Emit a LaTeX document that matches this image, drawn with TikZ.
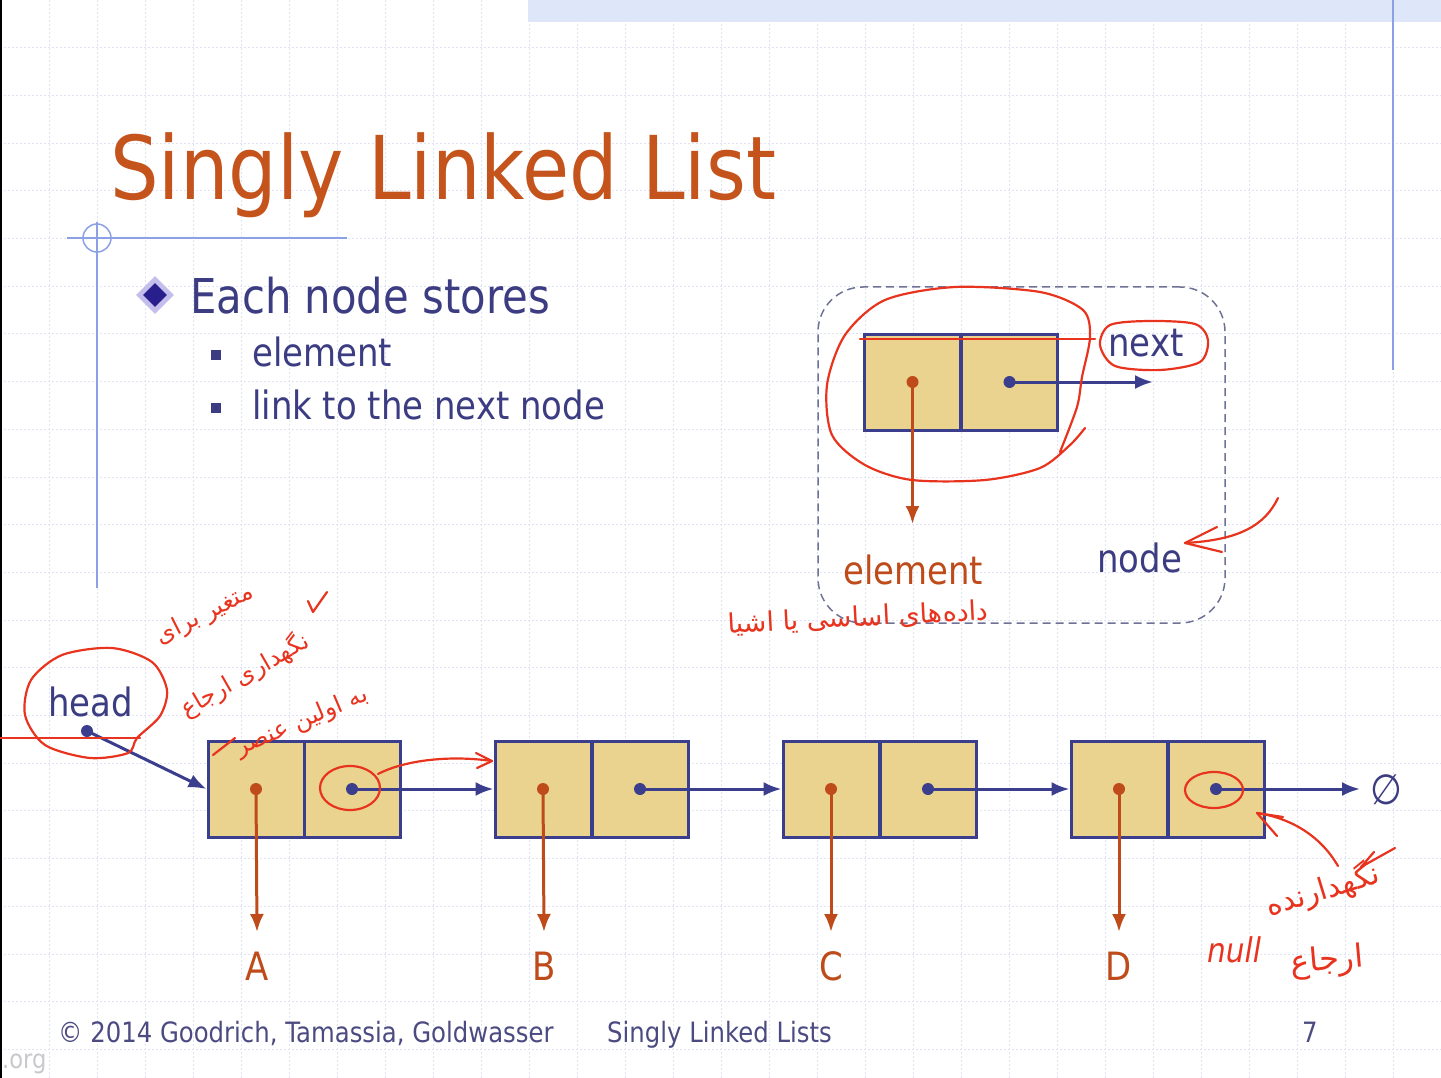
\documentclass[tikz,border=0pt]{standalone}
\usepackage{fontspec}
\setmainfont{DejaVu Sans}[FakeStretch=0.87]
\newfontfamily\farsi[Script=Arabic]{DejaVu Sans}
\TeXXeTstate=1
\usetikzlibrary{arrows.meta,shapes.geometric}
\definecolor{navy}{RGB}{60,60,130}
\definecolor{boxline}{RGB}{58,62,140}
\definecolor{tan}{RGB}{233,211,142}
\definecolor{titlec}{RGB}{196,84,28}
\definecolor{elemc}{RGB}{190,75,25}
\definecolor{ink}{RGB}{232,52,30}
\definecolor{gridc}{RGB}{224,227,244}
\definecolor{decor}{RGB}{140,160,230}
\definecolor{dashc}{RGB}{110,115,150}
\definecolor{footc}{RGB}{75,75,130}
\definecolor{band}{RGB}{222,230,250}
\definecolor{diaout}{RGB}{195,190,235}
\definecolor{diain}{RGB}{40,30,140}
\definecolor{wmc}{RGB}{200,200,205}
\begin{document}
\begin{tikzpicture}[x=1pt,y=-1pt,
  cell/.style={draw=boxline,fill=tan,line width=3pt,minimum width=96pt,minimum height=96pt,inner sep=0pt},
  elemarrow/.style={draw=elemc,line width=3pt,-{Latex[length=18pt,width=14pt]}},
  nextarrow/.style={draw=boxline,line width=3pt,-{Latex[length=18pt,width=14pt]}},
  txt/.style={anchor=base west,inner sep=0pt,text=navy},
  lbl/.style={anchor=base,inner sep=0pt,text=elemc,font=\fontsize{39}{39}\selectfont},
  inkline/.style={draw=ink,line width=2.2pt,line cap=round,line join=round},
  inktxt/.style={inner sep=0pt,text=ink,font=\farsi\fontsize{24}{24}\selectfont},
  gridline/.style={draw=gridc,line width=1pt,dash pattern=on 2pt off 2pt}]
\clip (0,0) rectangle (1441,1078);
\fill[white] (0,0) rectangle (1441,1078);
% background grid
\foreach \k in {1,...,29} \draw[gridline] ({1+48*\k},0) -- ({1+48*\k},1078);
\foreach \k in {1,...,22} \draw[gridline] (0,{47.7*\k}) -- (1441,{47.7*\k});
% slide frame decorations
\fill[band] (528,0) rectangle (1441,22);
\draw[decor,line width=1.5pt] (1393,0) -- (1393,370);
\draw[black,line width=2pt] (1,0) -- (1,1078);
\draw[decor,line width=1.5pt] (67,238) -- (347,238);
\draw[decor,line width=1.5pt] (97,222) -- (97,588);
\draw[decor,line width=1.5pt] (97,238) circle (14);
% title and bullets
\node[anchor=base west,inner sep=0pt,text=titlec,font=\fontsize{88}{88}\selectfont] (title) at (110,200) {Singly Linked List};
\node[diamond,fill=diaout,minimum size=38pt,inner sep=0pt] (dia) at (155,295) {};
\node[diamond,fill=diain,minimum size=24pt,inner sep=0pt] (diainner) at (155,295) {};
\node[txt,font=\fontsize{48}{48}\selectfont] (b1) at (190,313) {Each node stores};
\node[fill=navy,minimum size=10pt,inner sep=0pt] (sq1) at (216,355) {};
\node[fill=navy,minimum size=10pt,inner sep=0pt] (sq2) at (216,408) {};
\node[txt,font=\fontsize{39}{39}\selectfont] (b2) at (252,366) {element};
\node[txt,font=\fontsize{39}{39}\selectfont] (b3) at (252,419) {link to the next node};
% node illustration
\node[draw=dashc,line width=1.5pt,dash pattern=on 8pt off 5pt,rounded corners=45pt,minimum width=407pt,minimum height=336pt] (nodebox) at (1021.5,455) {};
\node[cell] (te) at (912.5,382) {};
\node[cell] (tn) at (1009.5,382) {};
\fill[elemc] (te.center) circle (6);
\fill[boxline] (tn.center) circle (6);
\coordinate (tel) at (912.5,524);
\coordinate (tnx) at (1153,382);
\draw[elemarrow] (te.center) -- (tel);
\draw[nextarrow] (tn.center) -- (tnx);
\node[txt,font=\fontsize{39}{39}\selectfont] (nextl) at (1108,356) {next};
\node[txt,text=elemc,font=\fontsize{39}{39}\selectfont] (eleml) at (843,584) {element};
\node[txt,font=\fontsize{39}{39}\selectfont] (nodel) at (1097,572) {node};
% linked list
\node[cell] (e1) at (256,789) {};
\node[cell] (n1) at (352,789) {};
\node[cell] (e2) at (543,789) {};
\node[cell] (n2) at (640,789) {};
\node[cell] (e3) at (831,789) {};
\node[cell] (n3) at (928,789) {};
\node[cell] (e4) at (1119,789) {};
\node[cell] (n4) at (1216,789) {};
\node[inner sep=0pt,text=navy,font=\fontsize{42}{42}\selectfont] (nul) at (1386,790) {∅};
\coordinate (nulend) at (1360,789);
\foreach \i in {1,2,3,4} {
  \fill[elemc] (e\i.center) circle (6);
  \fill[boxline] (n\i.center) circle (6);
}
\draw[nextarrow] (n1.center) -- (e2.west);
\draw[nextarrow] (n2.center) -- (e3.west);
\draw[nextarrow] (n3.center) -- (e4.west);
\draw[nextarrow] (n4.center) -- (nulend);
\node[txt,font=\fontsize{39}{39}\selectfont] (head) at (48,716) {head};
\coordinate (hd) at (87,731);
\fill[boxline] (hd) circle (6);
\draw[nextarrow] (hd) -- (e1.west);
\foreach \i/\l/\x in {1/A/257,2/B/544,3/C/831,4/D/1119} {
  \coordinate (d\i) at (\x,932);
  \draw[elemarrow] (e\i.center) -- (d\i);
  \node[lbl] (L\i) at (\x,980) {\l};
}
% footer
\node[txt,text=footc,font=\fontsize{28}{28}\selectfont] (f1) at (58,1042) {© 2014 Goodrich, Tamassia, Goldwasser};
\node[txt,text=footc,font=\fontsize{28}{28}\selectfont] (f2) at (607,1042) {Singly Linked Lists};
\node[txt,text=footc,font=\fontsize{28}{28}\selectfont] (f3) at (1302,1042) {7};
\node[txt,text=wmc,font=\fontsize{26}{26}\selectfont] (wm) at (2,1068) {.org};
% handwritten annotations
\draw[inkline] plot[smooth] coordinates {(1060,452) (1077,407) (1082,377) (1090,337) (1083,310) (1040,292) (955,287) (885,300) (845,335) (827,385) (832,435) (865,465) (912,480) (985,480) (1040,468) (1070,445) (1085,428)};
\draw[inkline] (860,339) -- (1095,339);
\draw[inkline] plot[smooth cycle] coordinates {(1100,345) (1110,325) (1150,321) (1195,324) (1208,340) (1200,362) (1160,370) (1115,366)};
\draw[inkline] (1278,498) .. controls (1265,525) and (1240,540) .. (1185,543);
\draw[inkline] (1217,527) -- (1185,543) -- (1222,552);
\node[inktxt,rotate=3,font=\farsi\fontsize{27}{27}\selectfont] (a1) at (858,618) {\beginR داده‌های اساسی یا اشیا\endR};
\draw[inkline] plot[smooth cycle] coordinates {(137,738) (160,716) (167,690) (152,662) (112,648) (62,655) (31,680) (25,715) (45,745) (90,758) (128,753)};
\draw[inkline] (0,738) -- (140,738);
\node[inktxt,rotate=27] (a2) at (205,615) {\beginR متغیر برای\endR};
\node[inktxt,rotate=30] (a3) at (245,675) {\beginR نگهداری ارجاع\endR};
\node[inktxt,rotate=23] (a4) at (302,722) {\beginR به اولین عنصر\endR};
\draw[inkline] (308,601) -- (313,612) -- (327,592);
\draw[inkline] (213,755) -- (235,738);
\draw[inkline] (350,788) ellipse (30 and 22);
\draw[inkline] (378,774) .. controls (405,760) and (450,755) .. (492,761);
\draw[inkline] (476,753) -- (492,761) -- (477,768);
\draw[inkline] (1214,790) ellipse (29 and 18);
\draw[inkline] (1338,866) .. controls (1320,835) and (1290,818) .. (1257,813);
\draw[inkline] (1283,817) -- (1257,813) -- (1277,836);
\draw[inkline] (1395,848) -- (1361,867) -- (1374,852);
\node[inktxt,rotate=17,font=\farsi\fontsize{30}{30}\selectfont] (a5) at (1323,890) {\beginR نگهدارنده\endR};
\node[inktxt,rotate=5,font=\farsi\fontsize{32}{32}\selectfont] (a6) at (1327,962) {\beginR ارجاع\endR};
\node[inner sep=0pt,text=ink,font=\itshape\fontsize{34}{34}\selectfont] (a7) at (1234,950) {null};
\end{tikzpicture}
\end{document}
